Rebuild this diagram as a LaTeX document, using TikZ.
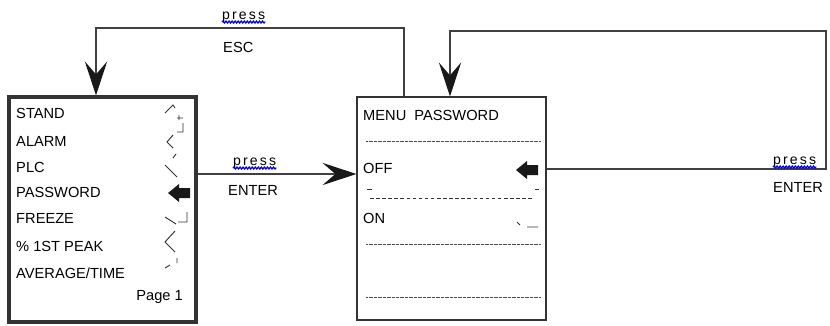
\documentclass[tikz,border=0pt]{standalone}
\usepackage{fontspec}
\setmainfont{Liberation Sans}
\usetikzlibrary{arrows.meta,decorations.pathmorphing}

\begin{document}
\begin{tikzpicture}[x=0.03cm,y=-0.03cm,
	conn/.style={draw=black!75,line width=1.1pt,-{Stealth[length=29pt,width=19pt,inset=11pt,color=black!90]}},
	menubox/.style={draw=black!80,inner sep=0pt},
	item/.style={anchor=base west,inner sep=0pt,font=\fontsize{12.5}{14}\selectfont},
	presslbl/.style={item,font=\fontsize{12}{14}\selectfont\addfontfeature{LetterSpace=15}},
	squiggle/.style={draw=blue!90!black,line width=1.1pt,decorate,decoration={snake,amplitude=0.8pt,segment length=2.6pt}},
	dotline/.style={draw=black!70,line width=0.6pt,dash pattern=on 0.5pt off 0.6pt},
	tick/.style={draw=black!80,line width=0.8pt}]

	\useasboundingbox (0,0) rectangle (830,325);

	% the two menus
	\node[menubox,line width=2.6pt,minimum width=5.61cm,minimum height=6.75cm] (mainmenu) at (102.5,209.5) {};
	\node[menubox,line width=0.9pt,minimum width=5.67cm,minimum height=6.69cm] (pwmenu) at (451.5,208.5) {};

	% main menu entries
	\node[item] (stand) at (16,118) {STAND};
	\node[item] (alarm) at (16,146) {ALARM};
	\node[item] (plc) at (16,172) {PLC};
	\node[item] (password) at (16,197) {PASSWORD};
	\node[item] (freeze) at (16,223) {FREEZE};
	\node[item] (peak) at (16,251) {\% 1ST PEAK};
	\node[item] (avgtime) at (16,278) {AVERAGE/TIME};
	\node[item,anchor=base east] (page) at (183,300) {Page 1};

	% password menu entries
	\node[item] (pwtitle) at (363,120) {MENU\ \ PASSWORD};
	\node[item] (off) at (363,173) {OFF};
	\node[item] (on) at (363,223) {ON};

	% separators
	\draw[dotline] (366,141) -- (540,141);
	\draw[dotline] (366,244) -- (540,244);
	\draw[dotline] (366,297) -- (540,297);
	\draw[tick,dash pattern=on 3pt off 2.2pt] (370,198) -- (533,198);
	\draw[tick] (367,189) -- (372,189) (535,189) -- (539,189);
	\draw[tick] (517,222) -- (520,225) (527,227) -- (538,227);

	% cursor arrows
	\fill[black!90] (168,193) -- (179,184) -- (179,188) -- (190,188) -- (190,198) -- (179,198) -- (179,202) -- cycle;
	\fill[black!90] (516,170) -- (527,161) -- (527,165) -- (538,165) -- (538,175) -- (527,175) -- (527,179) -- cycle;

	% scroll marks of the main menu
	\draw[tick] (165,113) -- (173,105) -- (175,108)
		(177,118) -- (183,118) (179,115) -- (179,120)
		(183,123) -- (183,132) -- (177,132)
		(173,135) -- (167,142) -- (173,148)
		(173,158) -- (176,154)
		(165,165) -- (177,177)
		(165,217) -- (176,224)
		(187,212) -- (187,222) -- (178,222)
		(175,231) -- (165,242) -- (175,252)
		(165,268) -- (170,265) (177,258) -- (177,263);

	% connectors
	\coordinate (enterrow) at (0,174);
	\coordinate (escup) at (404,28);
	\coordinate (escleft) at (96,28);
	\coordinate (offrow) at (0,169);
	\coordinate (enterright) at (826,31);
	\coordinate (enterback) at (450,31);

	\draw[conn] (mainmenu.east |- enterrow) -- (pwmenu.west |- enterrow);
	\draw[conn] (pwmenu.north -| escup) -- (escup) -- (escleft) -- (mainmenu.north -| escleft);
	\draw[conn] (pwmenu.east |- offrow) -| (enterright) -- (enterback) -- (pwmenu.north -| enterback);

	% key labels
	\node[presslbl] (pressenter) at (233,165) {press};
	\node[item] (enterkey) at (228,195) {ENTER};
	\node[presslbl] (pressesc) at (222,19) {press};
	\node[item] (esckey) at (223,52) {ESC};
	\node[presslbl] (pressback) at (773,164) {press};
	\node[item] (backkey) at (773,192) {ENTER};

	\draw[squiggle] ([yshift=-2.6pt]pressenter.base west) -- ([yshift=-2.6pt]pressenter.base east);
	\draw[squiggle] ([yshift=-2.6pt]pressesc.base west) -- ([yshift=-2.6pt]pressesc.base east);
	\draw[squiggle] ([yshift=-2.6pt]pressback.base west) -- ([yshift=-2.6pt]pressback.base east);

\end{tikzpicture}
\end{document}
